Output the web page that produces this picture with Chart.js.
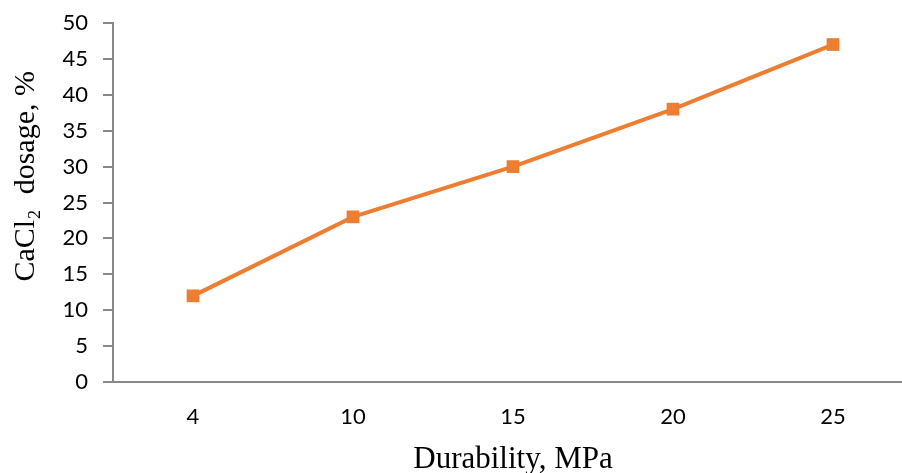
<!DOCTYPE html>
<html>
<head>
<meta charset="utf-8">
<script src="https://cdn.jsdelivr.net/npm/chart.js@4"></script>
<style>
  html, body { margin: 0; padding: 0; background: #fff; }
  /* the x axis runs past the right edge in the original, so the canvas is wider and clipped */
  #clip { position: relative; width: 902px; height: 473px; overflow: hidden; }
  #chart1 { display: block; position: absolute; left: 0; top: 0; }
</style>
</head>
<body>
<div id="clip"><canvas id="chart1" width="914" height="473"></canvas></div>
<script>
// durability (MPa) on x, CaCl2 dosage (%) on y
var durability = ['4', '10', '15', '20', '25'];
var dosage = [12, 23, 30, 38, 47];
var yMin = 0;
var yMax = 50;
var yStep = 5;

var axisColor = '#888888';
var lineColor = '#ED7D31';

const chartLinia = document.getElementById('chart1');

new Chart(chartLinia, {
    type: 'line',
    data: {
        labels: durability,
        datasets: [{
            label: 'CaCl2 dosage',
            data: dosage,
            borderColor: lineColor,
            backgroundColor: lineColor,
            borderWidth: 4,
            pointStyle: 'rect',
            pointRadius: 9,
            pointHoverRadius: 9,
            pointBorderWidth: 0,
            tension: 0
        }]
    },
    options: {
        responsive: false,
        animation: false,
        layout: {
            autoPadding: false,
            padding: { left: 8, right: 1, top: 23, bottom: 0 }
        },
        plugins: {
            legend: { display: false },
            tooltip: { enabled: false }
        },
        scales: {
            x: {
                offset: true,
                grid: { display: false, drawTicks: false },
                border: { display: true, color: axisColor, width: 2 },
                ticks: {
                    color: '#000',
                    padding: 22,
                    font: { family: 'Lato', size: 22 }
                },
                title: {
                    display: true,
                    text: 'Durability, MPa',
                    color: '#000',
                    padding: { top: 0, bottom: -5 },
                    font: { family: 'Liberation Serif', size: 31 }
                },
                afterFit: function(s) {
                    s.height = 91;
                    s.paddingLeft = 0;
                    s.paddingRight = 0;
                }
            },
            y: {
                min: yMin,
                max: yMax,
                grid: {
                    display: true,
                    drawOnChartArea: false,
                    drawTicks: true,
                    tickLength: 10,
                    color: axisColor,
                    lineWidth: 2
                },
                border: { display: true, color: axisColor, width: 2 },
                ticks: {
                    stepSize: yStep,
                    color: '#000',
                    padding: 15,
                    font: { family: 'Lato', size: 22 }
                },
                title: {
                    display: true,
                    text: '       CaCl\u2082  dosage, %',
                    color: '#000',
                    padding: { top: 0, bottom: 0 },
                    font: { family: 'Liberation Serif', size: 30 }
                },
                afterFit: function(s) {
                    s.width = 105;
                    s.paddingTop = 0;
                    s.paddingBottom = 0;
                }
            }
        }
    }
});
</script>
</body>
</html>
